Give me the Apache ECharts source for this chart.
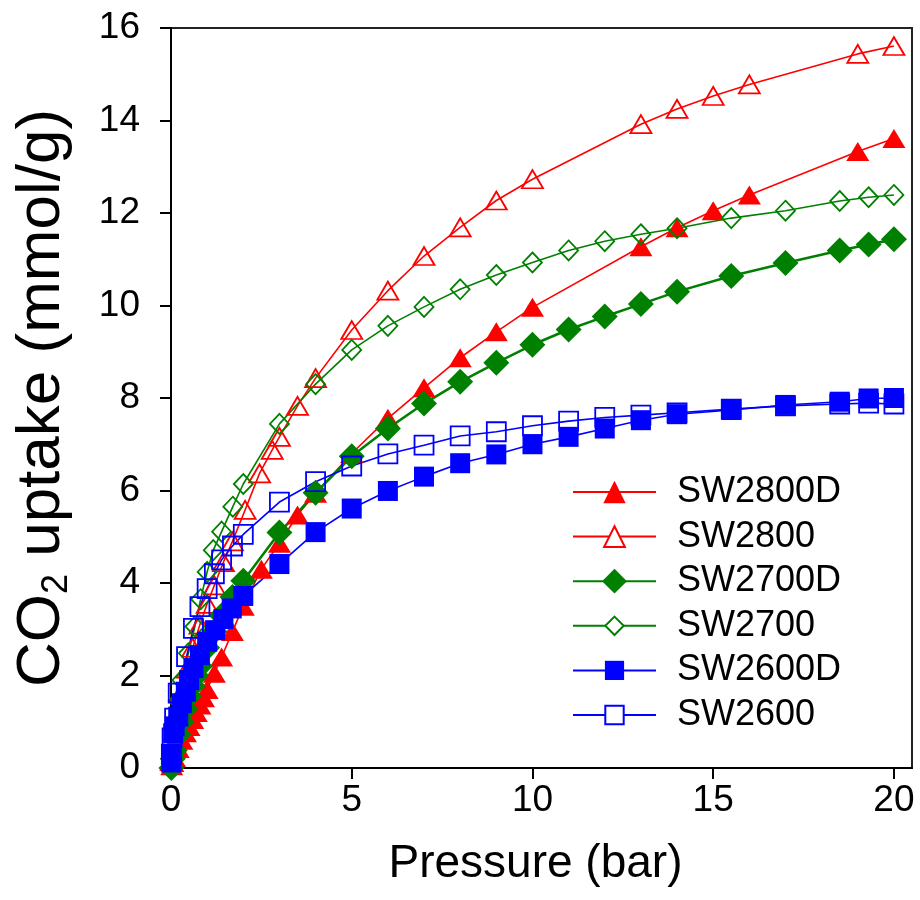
<!DOCTYPE html>
<html>
<head>
<meta charset="utf-8">
<script src="https://cdn.jsdelivr.net/npm/echarts@6/dist/echarts.min.js"></script>
<style>
  html, body { margin: 0; padding: 0; background: #fff; }
  #chart { width: 920px; height: 900px; }
</style>
</head>
<body>
<div id="chart"></div>
<script>
// CO2 adsorption isotherms: pressure (bar) vs uptake (mmol/g)
const seriesNames = ['SW2800D', 'SW2800', 'SW2700D', 'SW2700', 'SW2600D', 'SW2600'];

const p2800D = [0.02,0.05,0.1,0.2,0.3,0.4,0.5,0.6,0.7,0.8,0.9,1.0,1.2,1.4,1.7,2.0,2.5,3.0,3.5,4,5,6,7,8,9,10,13,14,15,16,19,20];
const u2800D = [0.05,0.12,0.22,0.42,0.6,0.76,0.9,1.05,1.2,1.36,1.52,1.7,2.05,2.4,2.95,3.5,4.3,4.86,5.47,5.94,6.80,7.56,8.22,8.87,9.43,9.96,11.27,11.68,12.05,12.39,13.33,13.61];

const p2800 = [0.01,0.03,0.1,0.2,0.3,0.45,0.6,0.8,1.0,1.2,1.45,1.7,2.05,2.45,2.8,3.0,3.5,4,5,6,7,8,9,10,13,14,15,16,19,20];
const u2800 = [0.15,0.4,0.8,1.25,1.65,2.15,2.6,3.1,3.55,3.95,4.45,4.9,5.58,6.37,6.88,7.16,7.83,8.43,9.47,10.32,11.07,11.69,12.27,12.73,13.92,14.25,14.53,14.78,15.44,15.61];

const p2700D = [0.01,0.05,0.1,0.2,0.3,0.4,0.5,0.6,0.7,0.8,1.0,1.2,1.4,1.7,2.0,3,4,5,6,7,8,9,10,11,12,13,14,15.5,17,18.5,19.3,20];
const u2700D = [0.0,0.2,0.38,0.72,1.0,1.28,1.55,1.78,2.0,2.2,2.6,2.95,3.3,3.7,4.05,5.09,5.95,6.74,7.34,7.88,8.35,8.76,9.15,9.48,9.76,10.03,10.30,10.64,10.92,11.19,11.32,11.43];

const p2700 = [0.01,0.03,0.1,0.2,0.3,0.48,0.66,0.82,1.0,1.17,1.4,1.71,2.0,3,4,5,6,7,8,9,10,11,12,13,14,15.5,17,18.5,19.3,20];
const u2700 = [0.1,0.4,0.95,1.45,1.9,2.48,3.06,3.65,4.24,4.71,5.11,5.65,6.14,7.44,8.30,9.04,9.56,9.97,10.35,10.66,10.93,11.19,11.39,11.54,11.67,11.89,12.05,12.26,12.34,12.39];

const p2600D = [0.01,0.02,0.06,0.1,0.2,0.3,0.41,0.5,0.62,0.8,1.0,1.22,1.45,1.68,2.0,3,4,5,6,7,8,9,10,11,12,13,14,15.5,17,18.5,19.3,20];
const u2600D = [0.12,0.3,0.75,0.9,1.11,1.4,1.65,1.9,2.16,2.44,2.73,2.98,3.22,3.45,3.72,4.41,5.10,5.61,5.99,6.30,6.59,6.78,7.0,7.16,7.34,7.52,7.65,7.74,7.85,7.92,7.99,8.0];

const p2600 = [0.01,0.03,0.1,0.2,0.43,0.62,0.8,1.0,1.2,1.4,1.7,2.0,3,4,5,6,7,8,9,10,11,12,13,14,15.5,17,18.5,19.3,20];
const u2600 = [0.3,0.65,1.08,1.62,2.41,3.02,3.49,3.88,4.2,4.5,4.8,5.05,5.75,6.19,6.53,6.79,6.98,7.18,7.27,7.40,7.50,7.58,7.63,7.68,7.76,7.83,7.87,7.89,7.87];

const xTicks = [0, 5, 10, 15, 20];
const yTicks = [0, 2, 4, 6, 8, 10, 12, 14, 16];

const FONT = '"Liberation Sans", Arial, sans-serif';

function pairs(px, py) {
  return px.map((p, i) => [p, py[i]]);
}

// marker/line styling for each series
const styles = [
  { data: pairs(p2800D, u2800D), color: '#ff0000', symbol: 'triangle', size: [23, 19], filled: true,  lw: 1.6, legendH: 28 },
  { data: pairs(p2800,  u2800),  color: '#ff0000', symbol: 'triangle', size: [21, 18], filled: false, lw: 1.6, legendH: 26 },
  { data: pairs(p2700D, u2700D), color: '#008000', symbol: 'diamond',  size: [26, 26], filled: true,  lw: 2.6, legendH: 31 },
  { data: pairs(p2700,  u2700),  color: '#008000', symbol: 'diamond',  size: [19, 20], filled: false, lw: 1.6, legendH: 23 },
  { data: pairs(p2600D, u2600D), color: '#0000ff', symbol: 'rect',     size: [20, 20], filled: true,  lw: 1.6, legendH: 24 },
  { data: pairs(p2600,  u2600),  color: '#0000ff', symbol: 'rect',     size: [19, 19], filled: false, lw: 1.6, legendH: 23 }
];

const series = styles.map((s, i) => ({
  name: seriesNames[i],
  type: 'line',
  data: s.data,
  clip: false,
  symbol: s.symbol,
  symbolSize: s.size,
  showAllSymbol: true,
  lineStyle: { color: s.color, width: s.lw },
  itemStyle: s.filled
    ? { color: s.color, borderColor: s.color, borderWidth: 0 }
    : { color: 'rgba(255,255,255,0)', borderColor: s.color, borderWidth: 1.8 },
  emphasis: { disabled: true },
  animation: false
}));

// legend rows, one legend block per entry so each marker keeps its own size
const legendRowY = 492;
const legendStep = 44.6;
const legendLineH = 40;
const legends = styles.map((s, i) => ({
  data: [{
    name: seriesNames[i],
    itemStyle: s.filled ? undefined : { color: '#fff' }
  }],
  left: 572,
  top: legendRowY + i * legendStep - legendLineH / 2,
  padding: 0,
  itemWidth: 83,
  itemHeight: s.legendH,
  selectedMode: false,
  textStyle: {
    fontFamily: FONT,
    fontSize: 36,
    lineHeight: legendLineH,
    color: '#000',
    padding: [0, 0, 0, 16]
  }
}));

const chart = echarts.init(document.getElementById('chart'), null, { renderer: 'canvas' });
chart.setOption({
  backgroundColor: '#fff',
  animation: false,
  legend: legends,
  grid: {
    left: 171, right: 8, top: 28, bottom: 132,
    show: true,
    borderColor: '#222',
    borderWidth: 2,
    backgroundColor: 'transparent'
  },
  xAxis: {
    type: 'value',
    min: 0, max: 20.5,
    interval: 5,
    name: 'Pressure (bar)',
    nameLocation: 'middle',
    nameGap: 73,
    nameTextStyle: { fontFamily: FONT, fontSize: 46, color: '#000', padding: [0, 12, 0, 0] },
    axisLine: { onZero: false, lineStyle: { color: '#000', width: 2 } },
    axisTick: { show: true, length: 11, lineStyle: { color: '#000', width: 2 }, customValues: xTicks },
    axisLabel: { fontFamily: FONT, fontSize: 37, color: '#000', margin: 14, customValues: xTicks },
    splitLine: { show: false }
  },
  yAxis: {
    type: 'value',
    min: 0, max: 16,
    interval: 2,
    name: '{a|CO}{b|2}{a| uptake (mmol/g)}',
    nameLocation: 'middle',
    nameGap: 96,
    nameRotate: 90,
    nameTextStyle: {
      fontFamily: FONT, color: '#000',
      rich: {
        a: { fontFamily: FONT, fontSize: 62, color: '#000' },
        b: { fontFamily: FONT, fontSize: 36, color: '#000', padding: [30, 0, 0, 0] }
      }
    },
    axisLine: { onZero: false, lineStyle: { color: '#000', width: 2 } },
    axisTick: { show: true, length: 11, lineStyle: { color: '#000', width: 2 }, customValues: yTicks },
    axisLabel: { fontFamily: FONT, fontSize: 37, color: '#000', margin: 31, customValues: yTicks },
    splitLine: { show: false }
  },
  series: series
});
</script>
</body>
</html>
